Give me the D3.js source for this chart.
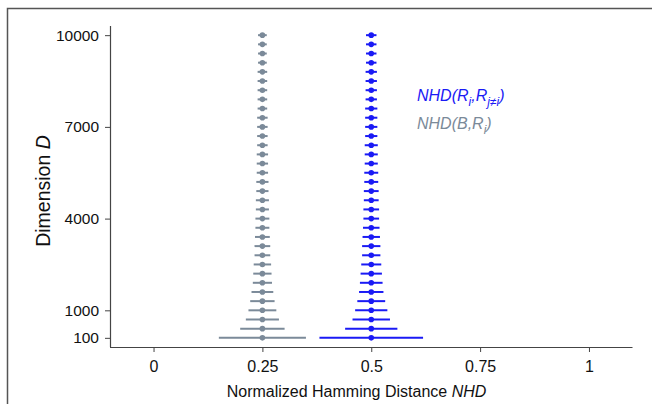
<!DOCTYPE html>
<html><head><meta charset="utf-8">
<script src="https://cdn.jsdelivr.net/npm/d3@7"></script>
<style>body{margin:0;background:#fff}svg{display:block}text{font-family:"Liberation Sans",Arial,sans-serif}</style>
</head><body>
<svg id="c" width="652" height="404"></svg>
<script>
const dims = [100,400,700,1000,1300,1600,1900,2200,2500,2800,3100,3400,3700,4000,4300,4600,4900,5200,5500,5800,6100,6400,6700,7000,7300,7600,7900,8200,8500,8800,9100,9400,9700,10000];
const grayMean = 0.25;
const grayErr = [0.100,0.051,0.038,0.032,0.028,0.025,0.022,0.021,0.020,0.018,0.018,0.017,0.016,0.016,0.015,0.015,0.014,0.014,0.013,0.013,0.013,0.012,0.012,0.012,0.012,0.011,0.011,0.011,0.011,0.011,0.010,0.010,0.010,0.010];
const blueMean = 0.5;
const blueErr = [0.119,0.060,0.043,0.037,0.032,0.028,0.026,0.0245,0.023,0.021,0.021,0.020,0.019,0.018,0.018,0.017,0.017,0.016,0.016,0.015,0.015,0.015,0.014,0.014,0.014,0.014,0.013,0.013,0.013,0.013,0.012,0.012,0.012,0.012];
const xTicks = [0,0.25,0.5,0.75,1];
const yTicks = [100,1000,4000,7000,10000];

const svg = d3.select("#c");
const GRAY = "#7b8a99", BLUE = "#1a1af5", AX = "#444";

// outer frame
svg.append("path").attr("d","M7.5,404V8.5H652").attr("fill","none").attr("stroke","#555").attr("stroke-width",1.5);

const x = d3.scaleLinear().domain([-0.1,1.1]).range([110,632.5]);
const y = d3.scaleLinear().domain([-200,10300]).range([347,26]);

const xa = svg.append("g").attr("transform","translate(0,347)")
  .call(d3.axisBottom(x).tickValues(xTicks).tickFormat(d=>String(d)).tickSize(5).tickPadding(9));
const ya = svg.append("g").attr("transform","translate(110,0)")
  .call(d3.axisLeft(y).tickValues(yTicks).tickFormat(d=>String(d)).tickSize(5).tickPadding(6));
[xa,ya].forEach(a=>{
  a.select(".domain").attr("stroke",AX).attr("stroke-width",1.2);
  a.selectAll(".tick line").attr("stroke",AX);
  a.selectAll("text").attr("fill","#111").style("font-family","'Liberation Sans',Arial,sans-serif");
});
xa.selectAll("text").style("font-size","16px");
ya.selectAll("text").style("font-size","15.5px");
ya.select(".domain").attr("d","M0.5,26V347");
xa.select(".domain").attr("d","M110,0.5H632.5");

function series(mean, errs, color){
  const g = svg.append("g");
  g.selectAll("line").data(dims).join("line")
    .attr("x1",(d,i)=>x(mean-errs[i])).attr("x2",(d,i)=>x(mean+errs[i]))
    .attr("y1",d=>y(d)).attr("y2",d=>y(d))
    .attr("stroke",color).attr("stroke-width",2);
  g.selectAll("circle").data(dims).join("circle")
    .attr("cx",x(mean)).attr("cy",d=>y(d)).attr("r",2.8).attr("fill",color);
}
series(grayMean, grayErr, GRAY);
series(blueMean, blueErr, BLUE);

// legend
const l1 = svg.append("text").attr("x",417).attr("y",101).attr("fill",BLUE).style("font-size","16px").style("font-style","italic");
l1.append("tspan").text("NHD(R");
l1.append("tspan").attr("dy",5).style("font-size","12px").text("i");
l1.append("tspan").attr("dy",-5).text(",R");
l1.append("tspan").attr("dy",5).style("font-size","12px").text("j≠i");
l1.append("tspan").attr("dy",-5).text(")");
const l2 = svg.append("text").attr("x",417).attr("y",129).attr("fill",GRAY).style("font-size","16px").style("font-style","italic");
l2.append("tspan").text("NHD(B,R");
l2.append("tspan").attr("dy",5).style("font-size","12px").text("i");
l2.append("tspan").attr("dy",-5).text(")");

// axis titles
const xt = svg.append("text").attr("x",356.5).attr("y",397).attr("text-anchor","middle").attr("fill","#111").style("font-size","16px");
xt.append("tspan").text("Normalized Hamming Distance ");
xt.append("tspan").style("font-style","italic").text("NHD");
const yt = svg.append("text").attr("transform","translate(49.5,191) rotate(-90)").attr("text-anchor","middle").attr("fill","#111").style("font-size","19.5px");
yt.append("tspan").text("Dimension ");
yt.append("tspan").style("font-style","italic").text("D");
</script>
</body></html>
